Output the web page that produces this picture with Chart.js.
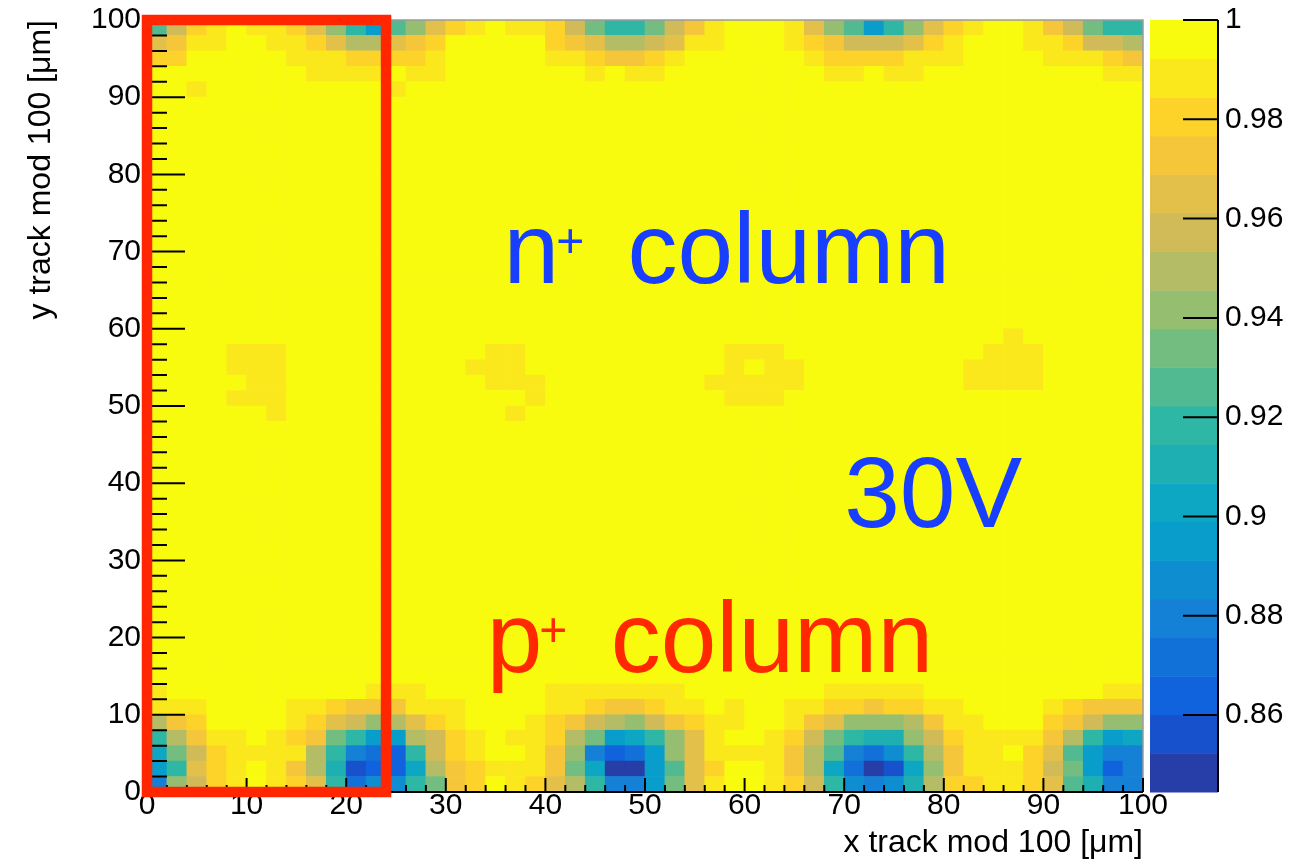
<!DOCTYPE html>
<html>
<head>
<meta charset="utf-8">
<title>Efficiency map, 30V</title>
<script src="https://cdn.jsdelivr.net/npm/chart.js@4/dist/chart.umd.min.js"></script>
<style>
  html, body { margin: 0; padding: 0; background: #fff; }
  canvas { display: block; }
</style>
</head>
<body>
<canvas id="effMap" width="1292" height="860"></canvas>
<script>
// bin edges in x and y (um)
const binEdges = [0, 2, 4, 6, 8, 10, 12, 14, 16, 18, 20, 22, 24, 26, 28, 30, 32, 34, 36, 38, 40,
  42, 44, 46, 48, 50, 52, 54, 56, 58, 60, 62, 64, 66, 68, 70, 72, 74, 76, 78, 80,
  82, 84, 86, 88, 90, 92, 94, 96, 98, 100];
const xTicks = [0, 10, 20, 30, 40, 50, 60, 70, 80, 90, 100];
const yTicks = [0, 10, 20, 30, 40, 50, 60, 70, 80, 90, 100];
const zTicks = [0.86, 0.88, 0.9, 0.92, 0.94, 0.96, 0.98, 1];
const zMin = 0.8445;
const zMax = 1;
const nBands = 20;

// efficiency per bin, one string per row, top row (y 98-100) first.
// each char = colour band counted down from the top of the scale (0 = ~1, j = lowest)
const effRows = [
  "9521011247 ad97421011 258aa85310 001479da74 21001358aa",
  "4311001124 6643200000 2346654110 0012355542 1000112556",
  "2200000111 2222100000 1123321000 0001222211 1000011123",
  "0000000011 1101100000 0010110000 0000110110 0000000011",
  "0010000000 0010000000 0000000000 0000000000 0000000000",
  "0000000000 0000000000 0000000000 0000000000 0000000000",
  "0000000000 0000000000 0000000000 0000000000 0000000000",
  "0000000000 0000000000 0000000000 0000000000 0000000000",
  "0000000000 0000000000 0000000000 0000000000 0000000000",
  "0000000000 0000000000 0000000000 0000000000 0000000000",
  "0000000000 0000000000 0000000000 0000000000 0000000000",
  "0000000000 0000000000 0000000000 0000000000 0000000000",
  "0000000000 0000000000 0000000000 0000000000 0000000000",
  "0000000000 0000000000 0000000000 0000000000 0000000000",
  "0000000000 0000000000 0000000000 0000000000 0000000000",
  "0000000000 0000000000 0000000000 0000000000 0000000000",
  "0000000000 0000000000 0000000000 0000000000 0000000000",
  "0000000000 0000000000 0000000000 0000000000 0000000000",
  "0000000000 0000000000 0000000000 0000000000 0000000000",
  "0000000000 0000000000 0000000000 0000000000 0000000000",
  "0000000000 0000000000 0000000000 0000000000 0001000000",
  "0000111000 0000000110 0000000001 1100000000 0011100000",
  "0000111000 0000001110 0000000001 0110000000 0111100000",
  "0000011000 0000000111 0000000011 1110000000 0111100000",
  "0000111000 0000000001 0000000001 1100000000 0000000000",
  "0000001000 0000000010 0000000000 0000000000 0000000000",
  "0000000000 0000000000 0000000000 0000000000 0000000000",
  "0000000000 0000000000 0000000000 0000000000 0000000000",
  "0000000000 0000000000 0000000000 0000000000 0000000000",
  "0000000000 0000000000 0000000000 0000000000 0000000000",
  "0000000000 0000000000 0000000000 0000000000 0000000000",
  "0000000000 0000000000 0000000000 0000000000 0000000000",
  "0000000000 0000000000 0000000000 0000000000 0000000000",
  "0000000000 0000000000 0000000000 0000000000 0000000000",
  "0000000000 0000000000 0000000000 0000000000 0000000000",
  "0000000000 0000000000 0000000000 0000000000 0000000000",
  "0000000000 0000000000 0000000000 0000000000 0000000000",
  "0000000000 0000000000 0000000000 0000000000 0000000000",
  "0000000000 0000000000 0000000000 0000000000 0000000000",
  "0000000000 0000000000 0000000000 0000000000 0000000000",
  "0000000000 0000000000 0000000000 0000000000 0000000000",
  "0000000000 0000000000 0000000000 0000000000 0000000000",
  "0000000000 0000000000 0000000000 0000000000 0000000000",
  "1000000000 0111000000 1111111000 0000111110 0000000011",
  "1110000112 3331110000 1123321101 0011223221 1000012333",
  "6320000124 5764210001 2356753211 0013477763 1100023577",
  "a631101238 add6521011 268dca7410 01258abb75 2111136adc",
  "c85211116a fgha521001 37fhgd7411 11369fgea6 3110249dff",
  "da4210136b ihhc632111 38cjjd9420 0136cgjic7 3111258dhf",
  "f75210124a geea832012 46affd8410 0125aefeb6 2211249bff"
];

const bandWidth = (zMax - zMin) / nBands;

// ROOT kBird palette
const birdStops = [0, 0.125, 0.25, 0.375, 0.5, 0.625, 0.75, 0.875, 1];
const birdR = [0.2082, 0.0592, 0.0780, 0.0232, 0.1802, 0.5301, 0.8186, 0.9956, 0.9764];
const birdG = [0.1664, 0.3599, 0.5041, 0.6419, 0.7178, 0.7492, 0.7328, 0.7862, 0.9832];
const birdB = [0.5293, 0.8684, 0.8385, 0.7914, 0.6425, 0.4662, 0.3499, 0.1968, 0.0539];

function birdColor(f) {
  let i = 0;
  while (i < birdStops.length - 2 && f > birdStops[i + 1]) i++;
  const t = (f - birdStops[i]) / (birdStops[i + 1] - birdStops[i]);
  const ch = a => Math.round(255 * (a[i] + t * (a[i + 1] - a[i])));
  return 'rgb(' + ch(birdR) + ',' + ch(birdG) + ',' + ch(birdB) + ')';
}

// one palette entry (out of 255) per contour band, k = 0 is the lowest band
function bandColor(k) {
  const idx = Math.floor((k + 0.99) * 255 / nBands);
  return birdColor(idx / 254);
}

function effColor(z) {
  const k = Math.max(0, Math.min(nBands - 1, Math.floor((z - zMin) / bandWidth)));
  return bandColor(k);
}

// unpack rows into floating bars, one per bin
const cells = [];
effRows.forEach((row, r) => {
  const codes = row.replace(/ /g, '');
  const yHi = binEdges[binEdges.length - 1 - r];
  const yLo = binEdges[binEdges.length - 2 - r];
  for (let c = 0; c < codes.length; c++) {
    const band = parseInt(codes[c], 36);
    cells.push({
      x: (binEdges[c] + binEdges[c + 1]) / 2,
      y: [yLo, yHi],
      eff: zMax - (band + 0.5) * bandWidth
    });
  }
});

const fontFamily = "'Liberation Sans', Arial, Helvetica, sans-serif";
const tickFont = {family: fontFamily, size: 30, lineHeight: 1};
const titleFont = {family: fontFamily, size: 32, lineHeight: 1};
Chart.defaults.font.family = fontFamily;

// frame, inner ticks, colour scale, labels and the box
const decor = {
  id: 'decor',
  afterDatasetsDraw(chart) {
    const {ctx, chartArea: area} = chart;
    const {x, y, z} = chart.scales;
    ctx.save();

    ctx.strokeStyle = '#9a9a9a';
    ctx.lineWidth = 1.5;
    ctx.beginPath();
    ctx.moveTo(area.left, area.top);
    ctx.lineTo(area.right, area.top);
    ctx.lineTo(area.right, area.bottom);
    ctx.stroke();

    ctx.strokeStyle = '#000';
    ctx.lineWidth = 2;
    ctx.beginPath();
    ctx.moveTo(area.left, area.top);
    ctx.lineTo(area.left, area.bottom);
    ctx.lineTo(area.right, area.bottom);
    binEdges.forEach(v => {
      const major = v % 10 === 0;
      const px = x.getPixelForValue(v);
      ctx.moveTo(px, area.bottom);
      ctx.lineTo(px, area.bottom - (major ? 14 : 7));
      const py = y.getPixelForValue(v);
      ctx.moveTo(area.left, py);
      ctx.lineTo(area.left + (major ? 38 : 20), py);
    });
    ctx.stroke();

    // palette
    const barL = area.right + 7;
    const barR = area.right + 75;
    for (let k = 0; k < nBands; k++) {
      const top = z.getPixelForValue(zMin + (k + 1) * bandWidth);
      const bot = z.getPixelForValue(zMin + k * bandWidth);
      ctx.fillStyle = bandColor(k);
      ctx.fillRect(barL, top, barR - barL, bot - top + 0.5);
    }
    ctx.beginPath();
    ctx.moveTo(barR, area.top);
    ctx.lineTo(barR, area.bottom);
    zTicks.forEach(v => {
      const py = z.getPixelForValue(v);
      ctx.moveTo(barR, py);
      ctx.lineTo(barR - 35, py);
    });
    ctx.stroke();

    // annotations
    ctx.textAlign = 'left';
    ctx.textBaseline = 'alphabetic';
    const big = '100px ' + fontFamily;
    const small = '48px ' + fontFamily;
    const columnLabel = (base, vx, vy, color) => {
      const px = x.getPixelForValue(vx);
      const py = y.getPixelForValue(vy);
      ctx.fillStyle = color;
      ctx.font = big;
      ctx.fillText(base, px, py);
      const w = ctx.measureText(base).width;
      ctx.font = small;
      ctx.fillText('+', px + w - 3, py - 26);
      ctx.font = big;
      ctx.fillText('column', px + 124, py);
    };
    columnLabel('n', 35.8, 65.9, 'rgb(24,62,255)');
    columnLabel('p', 34.1, 15.5, 'rgb(255,40,0)');
    ctx.font = big;
    ctx.fillStyle = 'rgb(24,62,255)';
    ctx.fillText('30V', x.getPixelForValue(70), y.getPixelForValue(34.3));

    // highlighted region
    ctx.strokeStyle = 'rgb(255,38,0)';
    ctx.lineWidth = 10.5;
    const bx0 = x.getPixelForValue(0), bx1 = x.getPixelForValue(24);
    const by0 = y.getPixelForValue(100), by1 = y.getPixelForValue(0);
    ctx.strokeRect(bx0, by0, bx1 - bx0, by1 - by0);

    ctx.restore();
  }
};

const tickLabel = v => String(+v.toFixed(2));

new Chart(document.getElementById('effMap'), {
  type: 'bar',
  data: {
    datasets: [{
      data: cells,
      backgroundColor: cells.map(c => effColor(c.eff)),
      borderWidth: 0,
      barPercentage: 1,
      categoryPercentage: 1
    }]
  },
  options: {
    responsive: false,
    animation: false,
    devicePixelRatio: 1,
    layout: {padding: {top: 20, right: 0, bottom: 0, left: 0}},
    plugins: {
      legend: {display: false},
      tooltip: {enabled: false}
    },
    scales: {
      x: {
        type: 'linear',
        min: 0,
        max: 100,
        offset: false,
        grid: {display: false, drawTicks: false, offset: false},
        border: {display: false},
        afterBuildTicks: s => { s.ticks = xTicks.map(v => ({value: v})); },
        afterFit: s => { s.height = 68; },
        ticks: {font: tickFont, color: '#000', padding: -1, maxRotation: 0, autoSkip: false, callback: tickLabel},
        title: {display: true, text: 'x track mod 100 [μm]', align: 'end', color: '#000', font: titleFont, padding: {top: 0, bottom: 1}}
      },
      y: {
        type: 'linear',
        min: 0,
        max: 100,
        // tickLength only offsets the labels, the grid itself is hidden
        grid: {display: false, drawTicks: true, tickLength: 6},
        border: {display: false},
        afterBuildTicks: s => { s.ticks = yTicks.map(v => ({value: v})); },
        afterFit: s => { s.width = 147; },
        ticks: {font: tickFont, color: '#000', padding: 0, autoSkip: false, callback: tickLabel},
        title: {display: true, text: 'y track mod 100 [μm]', align: 'end', color: '#000', font: titleFont, padding: {top: 25, bottom: 0}}
      },
      z: {
        type: 'linear',
        position: 'right',
        min: zMin,
        max: zMax,
        grid: {display: false, drawTicks: true, tickLength: 82},
        border: {display: false},
        afterBuildTicks: s => { s.ticks = zTicks.map(v => ({value: v})); },
        afterFit: s => { s.width = 149; },
        ticks: {font: tickFont, color: '#000', padding: 0, autoSkip: false, callback: tickLabel}
      }
    }
  },
  plugins: [decor]
});
</script>
</body>
</html>
